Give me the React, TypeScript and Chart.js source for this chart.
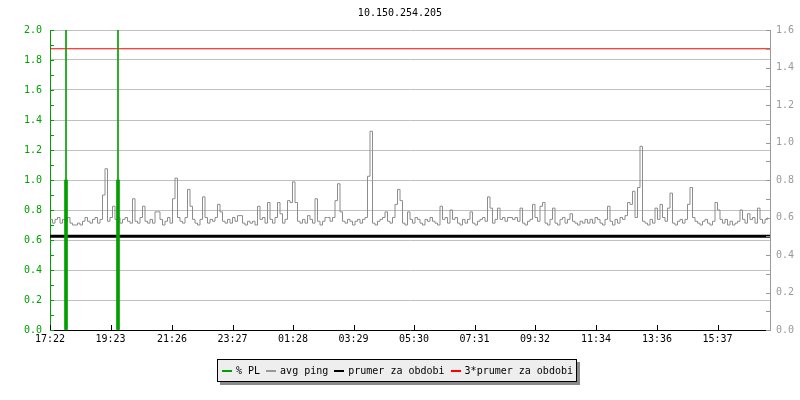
import React, { useEffect, useRef } from "react";
import { Chart, registerables } from "chart.js";

Chart.register(...registerables);

const TITLE = "10.150.254.205";

// x axis: minutes since 17:22
const tickMinutes = [0, 121, 244, 365, 486, 607, 728, 849, 970, 1092, 1214, 1335];
const tickLabels = ["17:22", "19:23", "21:26", "23:27", "01:28", "03:29", "05:30", "07:31", "09:32", "11:34", "13:36", "15:37"];
const spanMinutes = 1440;
const sampleMinutes = 5;

// avg ping (right axis), one sample every 5 minutes
const pingValues = [
  0.59, 0.57, 0.59, 0.60, 0.57, 0.59, 0.58, 0.60, 0.57, 0.56, 0.56, 0.57,
  0.56, 0.58, 0.60, 0.58, 0.57, 0.59, 0.60, 0.57, 0.59, 0.72, 0.86, 0.58,
  0.60, 0.66, 0.59, 0.60, 0.57, 0.59, 0.60, 0.58, 0.57, 0.70, 0.58, 0.57,
  0.60, 0.66, 0.58, 0.57, 0.59, 0.57, 0.63, 0.63, 0.59, 0.56, 0.58, 0.60,
  0.57, 0.70, 0.81, 0.60, 0.58, 0.57, 0.60, 0.75, 0.66, 0.59, 0.57, 0.56,
  0.59, 0.71, 0.60, 0.57, 0.59, 0.58, 0.60, 0.67, 0.63, 0.58, 0.57, 0.59,
  0.57, 0.60, 0.58, 0.61, 0.61, 0.57, 0.56, 0.58, 0.57, 0.58, 0.56, 0.66,
  0.59, 0.60, 0.57, 0.68, 0.59, 0.57, 0.60, 0.68, 0.62, 0.57, 0.59, 0.69,
  0.68, 0.79, 0.68, 0.58, 0.57, 0.59, 0.57, 0.61, 0.59, 0.57, 0.70, 0.58,
  0.56, 0.58, 0.60, 0.60, 0.58, 0.60, 0.69, 0.78, 0.63, 0.58, 0.57, 0.59,
  0.58, 0.56, 0.58, 0.59, 0.57, 0.59, 0.60, 0.82, 1.06, 0.57, 0.56, 0.58,
  0.59, 0.60, 0.63, 0.58, 0.57, 0.60, 0.67, 0.75, 0.69, 0.57, 0.56, 0.63,
  0.59, 0.57, 0.60, 0.59, 0.57, 0.56, 0.59, 0.58, 0.60, 0.58, 0.57, 0.56,
  0.66, 0.59, 0.60, 0.57, 0.64, 0.59, 0.60, 0.57, 0.56, 0.59, 0.57, 0.59,
  0.63, 0.57, 0.56, 0.58, 0.59, 0.60, 0.58, 0.71, 0.65, 0.57, 0.59, 0.65,
  0.59, 0.60, 0.58, 0.60, 0.60, 0.59, 0.60, 0.58, 0.65, 0.57, 0.56, 0.58,
  0.59, 0.67, 0.60, 0.58, 0.66, 0.68, 0.57, 0.56, 0.59, 0.65, 0.57, 0.56,
  0.59, 0.60, 0.57, 0.59, 0.62, 0.58, 0.57, 0.56, 0.58, 0.57, 0.59, 0.57,
  0.59, 0.57, 0.60, 0.59, 0.57, 0.56, 0.59, 0.66, 0.58, 0.56, 0.59, 0.57,
  0.60, 0.59, 0.61, 0.68, 0.67, 0.74, 0.60, 0.76, 0.98, 0.58, 0.57, 0.56,
  0.59, 0.57, 0.65, 0.59, 0.67, 0.60, 0.58, 0.65, 0.73, 0.57, 0.56, 0.58,
  0.59, 0.57, 0.59, 0.67, 0.76, 0.60, 0.58, 0.57, 0.56, 0.58, 0.59, 0.57,
  0.56, 0.58, 0.68, 0.64, 0.59, 0.57, 0.59, 0.56, 0.58, 0.56, 0.57, 0.58,
  0.64, 0.59, 0.57, 0.62, 0.59, 0.60, 0.57, 0.65, 0.59, 0.57, 0.59, 0.60,
];

// % PL (left axis)
const plTimes = [32, 136];
const plValues = [1.0, 1.0];
const plMarkValues = [2.0, 2.0];

// averages (right axis)
const avgPing = 0.5;
const avgPing3 = 1.5;

const seriesNames = ["% PL", "avg ping", "prumer za obdobi", "3*prumer za obdobi"];
const seriesColors = ["#00a000", "#999999", "#000000", "#ff0000"];

const FONT = "'DejaVu Sans Mono', monospace";
const GREEN = "#00a000";
const GREY = "#999999";

const innerTicks = {
  id: "innerTicks",
  afterDraw(chart: any) {
    const { ctx, chartArea: a, scales } = chart;
    ctx.save();
    ctx.lineWidth = 1;
    const yl = scales.y;
    ctx.strokeStyle = GREEN;
    for (let k = 0; k <= 20; k++) {
      const y = Math.round(yl.getPixelForValue(k / 10)) + 0.5;
      ctx.beginPath();
      ctx.moveTo(a.left, y);
      ctx.lineTo(a.left + 4, y);
      ctx.stroke();
    }
    const yr = scales.y1;
    ctx.strokeStyle = GREY;
    for (let k = 0; k <= 16; k++) {
      const y = Math.round(yr.getPixelForValue(k / 10)) + 0.5;
      ctx.beginPath();
      ctx.moveTo(a.right - 4, y);
      ctx.lineTo(a.right, y);
      ctx.stroke();
    }
    const xs = scales.x;
    ctx.strokeStyle = "#000";
    tickMinutes.forEach((m) => {
      const x = Math.round(xs.getPixelForValue(m)) + 0.5;
      ctx.beginPath();
      ctx.moveTo(x, a.bottom);
      ctx.lineTo(x, a.bottom - 5);
      ctx.stroke();
    });
    ctx.restore();
  },
};

export default function App() {
  const ref = useRef<HTMLCanvasElement | null>(null);

  useEffect(() => {
    if (!ref.current) return;
    const pingData = pingValues.map((v, i) => ({ x: i * sampleMinutes, y: v }));
    const plData = plTimes.map((t, i) => ({ x: t, y: plValues[i] }));
    const plMarkData = plTimes.map((t, i) => ({ x: t, y: plMarkValues[i] }));
    const chart = new Chart(ref.current, {
      type: "bar",
      data: {
        datasets: [
          {
            label: seriesNames[0],
            data: plData,
            backgroundColor: GREEN,
            barThickness: 3,
            grouped: false,
            yAxisID: "y",
          } as any,
          {
            label: "pl-mark",
            data: plMarkData,
            backgroundColor: GREEN,
            barThickness: 1,
            grouped: false,
            yAxisID: "y",
          } as any,
          {
            type: "line",
            label: seriesNames[1],
            data: pingData,
            borderColor: "#8c8c8c",
            borderWidth: 1,
            pointRadius: 0,
            stepped: true,
            yAxisID: "y1",
          } as any,
          {
            type: "line",
            label: seriesNames[2],
            data: [
              { x: 0, y: avgPing },
              { x: spanMinutes, y: avgPing },
            ],
            borderColor: seriesColors[2],
            borderWidth: 3,
            pointRadius: 0,
            yAxisID: "y1",
          } as any,
          {
            type: "line",
            label: seriesNames[3],
            data: [
              { x: 0, y: avgPing3 },
              { x: spanMinutes, y: avgPing3 },
            ],
            borderColor: seriesColors[3],
            borderWidth: 1,
            pointRadius: 0,
            yAxisID: "y1",
          } as any,
        ],
      },
      options: {
        responsive: false,
        animation: false,
        events: [],
        layout: { padding: 0 },
        plugins: {
          legend: { display: false },
          tooltip: { enabled: false },
          title: {
            display: true,
            text: TITLE,
            color: "#000",
            font: { family: FONT, size: 10, weight: "normal" },
            padding: { top: 7, bottom: 11 },
          },
        },
        scales: {
          x: {
            type: "linear",
            offset: false,
            min: 0,
            max: spanMinutes,
            afterBuildTicks: (scale: any) => {
              scale.ticks = tickMinutes.map((v) => ({ value: v }));
            },
            afterFit: (scale: any) => {
              scale.height = 70;
            },
            ticks: {
              autoSkip: false,
              maxRotation: 0,
              padding: 3,
              color: "#000",
              font: { family: FONT, size: 10 },
              callback: (_v: any, i: number) => tickLabels[i],
            },
            grid: { display: false, drawTicks: false, offset: false },
            border: { color: "#000", width: 1 },
          },
          y: {
            type: "linear",
            position: "left",
            min: 0,
            max: 2,
            afterFit: (scale: any) => {
              scale.width = 50;
            },
            ticks: {
              stepSize: 0.2,
              padding: 8,
              color: GREEN,
              font: { family: FONT, size: 10 },
              callback: (v: any) => Number(v).toFixed(1),
            },
            grid: { color: "#c0c0c0", drawTicks: false },
            border: { color: GREEN, width: 1 },
          },
          y1: {
            type: "linear",
            position: "right",
            min: 0,
            max: 1.6,
            afterFit: (scale: any) => {
              scale.width = 30;
            },
            ticks: {
              stepSize: 0.2,
              padding: 6,
              color: GREY,
              font: { family: FONT, size: 10 },
              callback: (v: any) => Number(v).toFixed(1),
            },
            grid: { drawOnChartArea: false, drawTicks: false },
            border: { color: GREY, width: 1 },
          },
        },
      } as any,
      plugins: [innerTicks],
    });
    return () => chart.destroy();
  }, []);

  return (
    <div style={{ position: "absolute", left: 0, top: 0, width: 800, height: 400, background: "#fff" }}>
      <canvas ref={ref} width={800} height={400} style={{ display: "block" }} />
      <div
        style={{
          position: "absolute",
          left: 217,
          top: 359,
          width: 360,
          height: 23,
          boxSizing: "border-box",
          border: "1px solid #000",
          background: "#eeeeee",
          boxShadow: "3px 3px 0 #8a8a8a",
          display: "flex",
          alignItems: "center",
          paddingLeft: 4,
          fontFamily: FONT,
          fontSize: 10,
          color: "#000",
          whiteSpace: "nowrap",
        }}
      >
        {seriesNames.map((name, i) => (
          <div key={name} style={{ display: "flex", alignItems: "center", marginRight: 6 }}>
            <span style={{ display: "inline-block", width: 10, height: 2, background: seriesColors[i], marginRight: 4 }} />
            <span>{name}</span>
          </div>
        ))}
      </div>
    </div>
  );
}
